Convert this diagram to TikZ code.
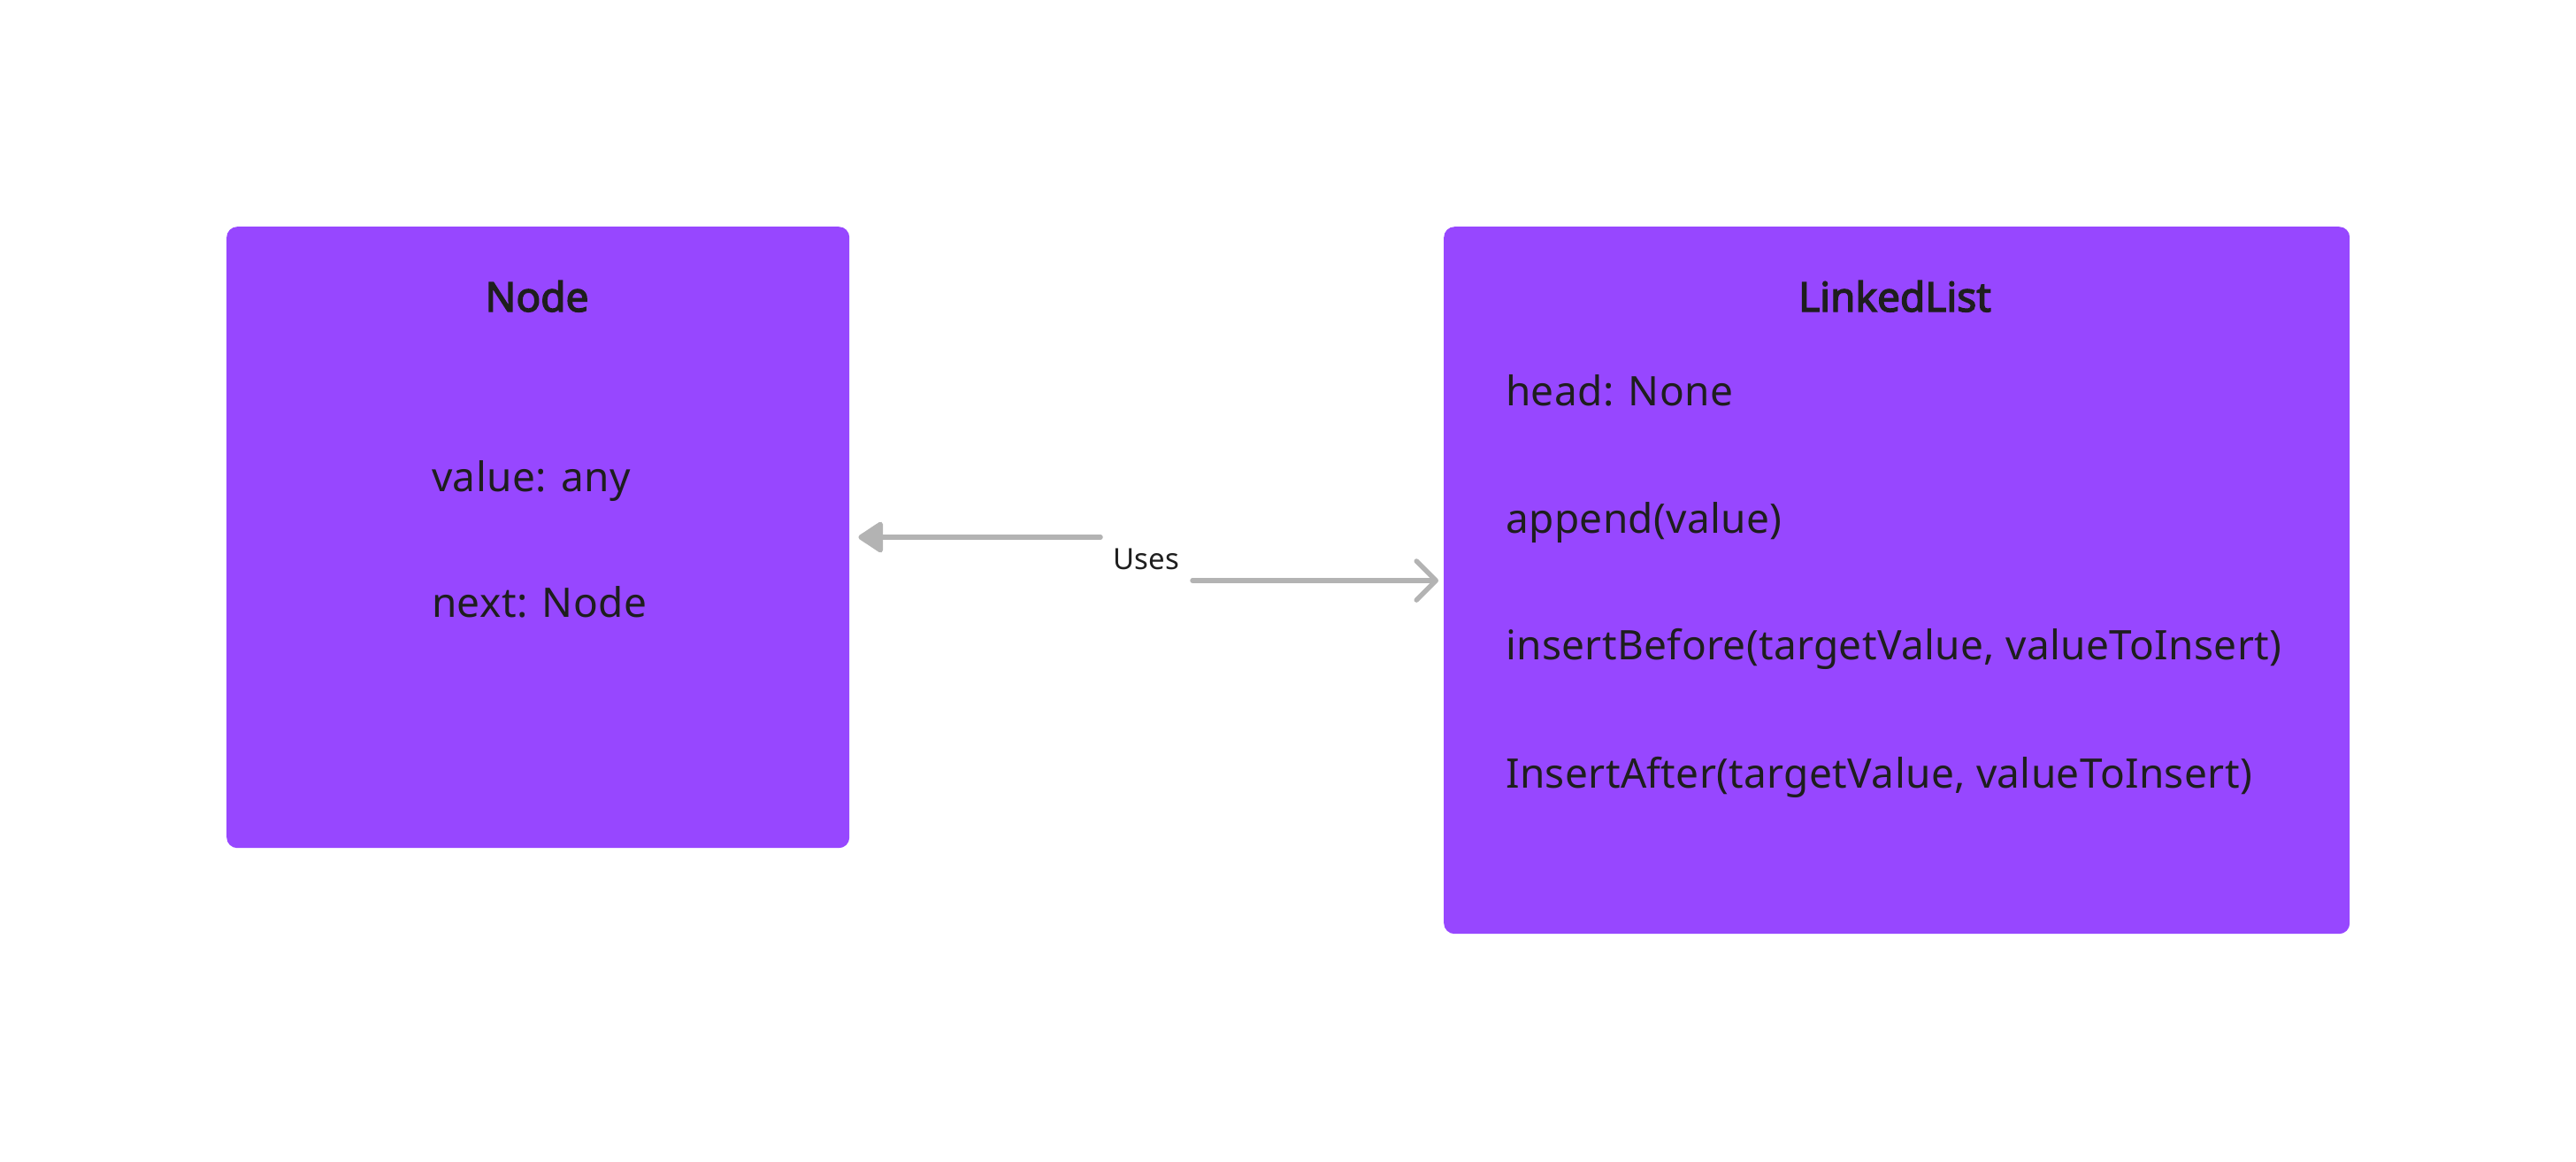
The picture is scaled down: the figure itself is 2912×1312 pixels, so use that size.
\documentclass[tikz,border=0pt]{standalone}
\usepackage{fontspec}
\setmainfont{Noto Sans}[AutoFakeBold=3]
\usetikzlibrary{arrows.meta}
\definecolor{boxpurple}{HTML}{9747FF}
\definecolor{txt}{HTML}{1E1E1E}
\definecolor{arrgray}{HTML}{B3B3B3}
\tikzset{
  classbox/.style={fill=boxpurple, draw=none, rounded corners=12pt, inner sep=0pt, anchor=north west},
  title/.style={text=txt, font=\fontsize{46}{54}\selectfont\bfseries, anchor=base, inner sep=0pt},
  member/.style={text=txt, font=\fontsize{46}{54}\selectfont\addfontfeature{LetterSpace=0.8}, anchor=base west, inner sep=0pt},
  conn/.style={draw=arrgray, line width=5.5pt, line cap=round},
  lbl/.style={text=txt, font=\fontsize{33}{40}\selectfont, inner sep=0pt}
}
\begin{document}
\begin{tikzpicture}[x=1pt,y=-1pt]
\useasboundingbox[fill=white] (0,0) rectangle (2912,1312);
% boxes
\node[classbox, minimum width=704pt, minimum height=702pt] (nodebox) at (256,256) {};
\node[classbox, minimum width=1024pt, minimum height=799pt] (listbox) at (1632,256) {};
% titles
\node[title] (nodetitle) at (607,352) {Node};
\node[title] (listtitle) at (2142,352) {LinkedList};
% members
\node[member] (m1) at (488,555) {value: any};
\node[member] (m2) at (488,697) {next: Node};
\node[member] (l1) at (1702,458) {head: None};
\node[member] (l2) at (1702,602) {append(value)};
\node[member] (l3) at (1702,745) {insertBefore(targetValue, valueToInsert)};
\node[member] (l4) at (1702,890) {InsertAfter(targetValue, valueToInsert)};
% connectors
\coordinate (u1) at (1244,607);
\coordinate (u2) at (1348,656);
\draw[conn, -{Triangle[length=30pt,width=38pt,round]}, shorten >=10pt] (u1) -- (nodebox.east |- u1);
\draw[conn, -{Straight Barb[length=22pt,width=44pt,round]}, shorten >=6pt] (u2) -- (listbox.west |- u2);
\node[lbl] (uses) at (1296,632) {Uses};
\end{tikzpicture}
\end{document}
